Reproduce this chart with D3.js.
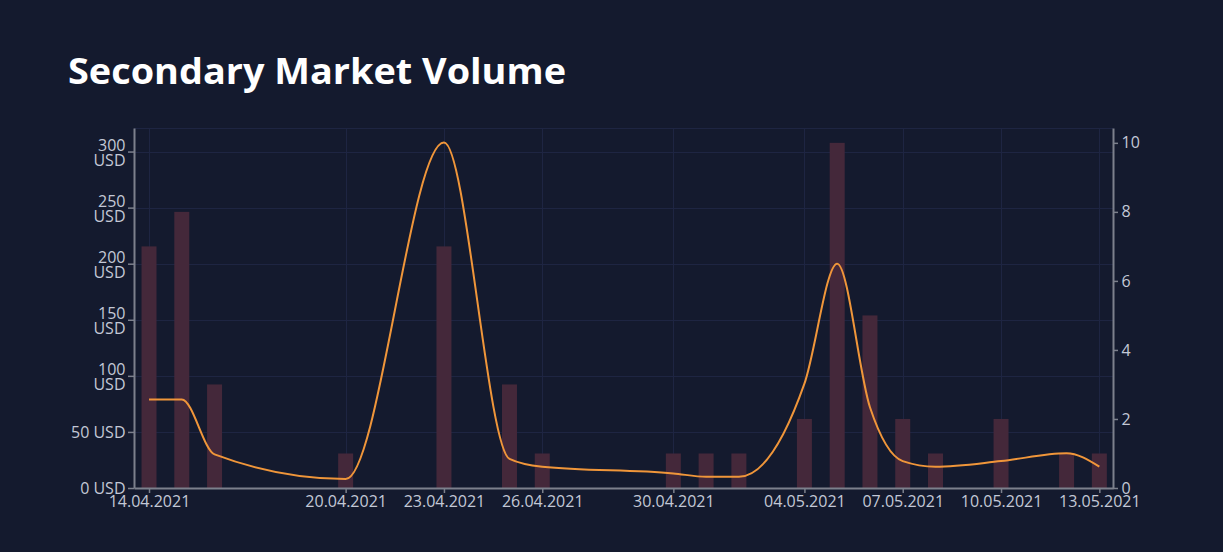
<!DOCTYPE html>
<html>
<head>
<meta charset="utf-8">
<script src="https://cdn.jsdelivr.net/npm/d3@7"></script>
<style>
  html, body { margin: 0; padding: 0; background: #141a2e; }
  svg { display: block; }
  text { font-family: "Open Sans", sans-serif; }
</style>
</head>
<body>
<script>
// trades per day (bars, right axis) and USD volume (line, left axis)
var days = ["2021-04-14", "2021-04-15", "2021-04-16", "2021-04-20", "2021-04-23", "2021-04-25",
    "2021-04-26", "2021-04-30", "2021-05-01", "2021-05-02", "2021-05-04", "2021-05-05",
    "2021-05-06", "2021-05-07", "2021-05-08", "2021-05-10", "2021-05-12", "2021-05-13"];
var tradeCounts = [7, 8, 3, 1, 7, 3, 1, 1, 1, 1, 2, 10, 5, 2, 1, 2, 1, 1];
var volumeUsd = [79, 79, 30, 8, 308, 26, 19, 13, 10, 10, 93, 200, 72, 24, 19, 24, 31, 19];

var xTickDays = ["2021-04-14", "2021-04-20", "2021-04-23", "2021-04-26", "2021-04-30",
    "2021-05-04", "2021-05-07", "2021-05-10", "2021-05-13"];
var usdTicks = [0, 50, 100, 150, 200, 250, 300];
var countTicks = [0, 2, 4, 6, 8, 10];

var width = 1223;
var height = 552;
var plot = {left: 134, right: 1113, top: 128, bottom: 488};

var parseDay = d3.timeParse("%Y-%m-%d");
var fmtDay = d3.timeFormat("%d.%m.%Y");

var data = days.map(function(d, i) {
    return {date: parseDay(d), count: tradeCounts[i], usd: volumeUsd[i]};
});

var svg = d3.select("body").append("svg")
    .attr("width", width)
    .attr("height", height);

svg.append("text")
    .text("Secondary Market Volume")
    .attr("x", 68)
    .attr("y", 84)
    .attr("fill", "#ffffff")
    .attr("font-size", 35)
    .attr("font-weight", 700)
    .attr("textLength", 498)
    .attr("lengthAdjust", "spacingAndGlyphs");

var x = d3.scaleTime()
    .domain([d3.timeHour.offset(parseDay(days[0]), -11),
             d3.timeHour.offset(parseDay(days[days.length - 1]), 10)])
    .range([plot.left, plot.right]);

var yUsd = d3.scaleLinear()
    .domain([0, 321])
    .range([plot.bottom, plot.top]);

var yCount = d3.scaleLinear()
    .domain([0, 10.43])
    .range([plot.bottom, plot.top]);

// grid
var grid = svg.append("g").attr("stroke", "#1e2542").attr("stroke-width", 1);
grid.selectAll(".hgrid")
    .data(usdTicks.concat([yUsd.domain()[1]]))
    .enter().append("line")
        .attr("x1", plot.left)
        .attr("x2", plot.right)
        .attr("y1", function(d) { return Math.round(yUsd(d)) + 0.5; })
        .attr("y2", function(d) { return Math.round(yUsd(d)) + 0.5; });
grid.selectAll(".vgrid")
    .data(xTickDays.map(parseDay))
    .enter().append("line")
        .attr("x1", function(d) { return Math.round(x(d)) + 0.5; })
        .attr("x2", function(d) { return Math.round(x(d)) + 0.5; })
        .attr("y1", plot.top)
        .attr("y2", plot.bottom);

// bars
var barW = 15;
svg.append("g").selectAll("rect")
    .data(data)
    .enter().append("rect")
        .attr("x", function(d) { return x(d.date) - barW / 2; })
        .attr("y", function(d) { return yCount(d.count); })
        .attr("width", barW)
        .attr("height", function(d) { return plot.bottom - yCount(d.count); })
        .attr("fill", "#44283a");

// volume line
var line = d3.line()
    .x(function(d) { return x(d.date); })
    .y(function(d) { return yUsd(d.usd); })
    .curve(d3.curveMonotoneX);

svg.append("path")
    .datum(data)
    .attr("d", line)
    .attr("fill", "none")
    .attr("stroke", "#f0963a")
    .attr("stroke-width", 2);

// axes
var axisColor = "#7c808c";
var labelColor = "#c3c8d6";

function styleAxis(g) {
    g.select(".domain").attr("stroke", axisColor).attr("stroke-width", 2);
    g.selectAll(".tick line").attr("stroke", axisColor).attr("stroke-width", 1.5);
    g.selectAll(".tick text")
        .attr("fill", labelColor)
        .attr("font-size", 16)
        .attr("font-family", "'Open Sans', sans-serif");
}

var xAxis = svg.append("g")
    .attr("transform", "translate(0," + plot.bottom + ")")
    .call(d3.axisBottom(x)
        .tickValues(xTickDays.map(parseDay))
        .tickFormat(fmtDay)
        .tickSize(5)
        .tickSizeOuter(0));
styleAxis(xAxis);

var leftAxis = svg.append("g")
    .attr("transform", "translate(" + plot.left + ",0)")
    .call(d3.axisLeft(yUsd)
        .tickValues(usdTicks)
        .tickSize(6)
        .tickSizeOuter(0)
        .tickFormat(function(d) { return d + " USD"; }));
styleAxis(leftAxis);

// long labels wrap onto two lines
leftAxis.selectAll(".tick text").each(function(d) {
    var t = d3.select(this).attr("dy", null).attr("x", -8.5).text(null);
    if (d >= 100) {
        t.append("tspan").attr("x", -8.5).attr("y", -1.5).text(d);
        t.append("tspan").attr("x", -8.5).attr("y", 14).text("USD");
    } else {
        t.append("tspan").attr("x", -8.5).attr("y", 5.5).text(d + " USD");
    }
});

var rightAxis = svg.append("g")
    .attr("transform", "translate(" + plot.right + ",0)")
    .call(d3.axisRight(yCount)
        .tickValues(countTicks)
        .tickSize(5)
        .tickSizeOuter(0));
styleAxis(rightAxis);
rightAxis.selectAll(".tick text").attr("x", 8.5);
</script>
</body>
</html>
